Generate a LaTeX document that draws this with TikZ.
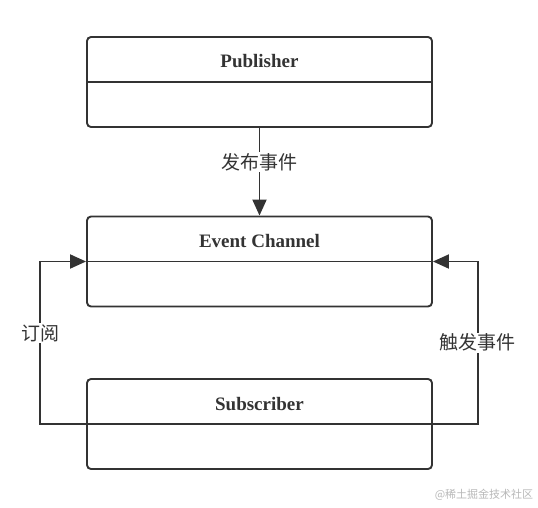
\documentclass[tikz,border=0pt]{standalone}
\usepackage{fontspec}
\setmainfont{Liberation Serif}
\newfontfamily\cjk{Noto Sans CJK SC}
\usepackage{tikz}
\usetikzlibrary{arrows.meta}
\definecolor{ink}{HTML}{333333}
\definecolor{mark}{HTML}{B8B8B8}

\begin{document}
\begin{tikzpicture}[x=1pt, y=-1pt, line width=1.9pt, draw=ink]
    \tikzstyle{box} += [draw=ink, rounded corners=4pt, minimum width=345pt, minimum height=90pt, inner sep=0pt];
    \tikzstyle{title} += [text=ink, font=\fontsize{19}{21}\selectfont\bfseries];
    \tikzstyle{lbl} += [fill=white, text=ink, inner sep=1pt, font=\cjk\fontsize{19}{21}\selectfont];
    \tikzstyle{arr} += [-{Triangle[length=16pt, width=14pt]}, draw=ink];
    \useasboundingbox (0,0) rectangle (538,507);

    \node (pub) at (259.5,  82) [box] {};
    \node (evt) at (259.5, 261.5) [box] {};
    \node (sub) at (259.5, 424) [box] {};

    \draw (pub.west) -- (pub.east);
    \draw (evt.west) -- (evt.east);
    \draw (sub.west) -- (sub.east);

    \node (pub_t) at (259.5,  61) [title] {Publisher};
    \node (evt_t) at (259.5, 241) [title] {Event Channel};
    \node (sub_t) at (259.5, 404) [title] {Subscriber};

    % connectors
    \draw[arr] (pub) -- node[lbl, pos=0.39] {发布事件} (evt);
    \draw[arr] (sub.west) -- ++(-46,0) coordinate (lt) |- node[lbl, pos=0.28] {订阅} (evt.west);
    \draw[arr] (sub.east) -- ++(45,0) coordinate (rt) |- node[lbl, pos=0.25] {触发事件} (evt.east);

    \node (wm) at (484, 495) [text=mark, font=\cjk\fontsize{11}{12}\selectfont] {@稀土掘金技术社区};
  \end{tikzpicture}
\end{document}
